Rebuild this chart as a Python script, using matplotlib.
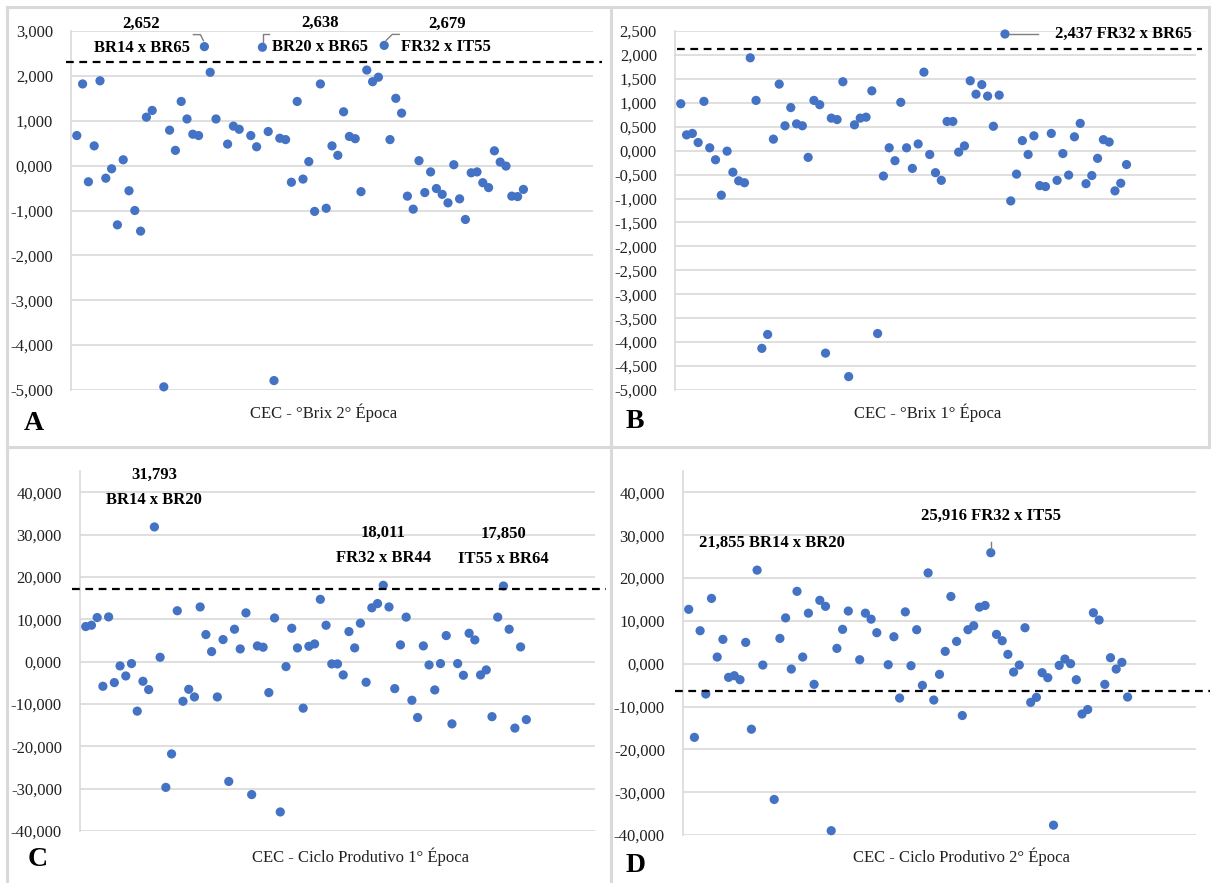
import numpy as np
import matplotlib
matplotlib.use("Agg")
import matplotlib.pyplot as plt
import matplotlib.transforms as mtransforms
from matplotlib.lines import Line2D
from matplotlib.ticker import FuncFormatter, MultipleLocator

plt.rcParams['font.family'] = ['Liberation Serif', 'DejaVu Serif']

# ---------------- data ----------------
N_POINTS = 78
x_pos = list(range(1, N_POINTS + 1))

brix_2a_epoca = [
    0.67, 1.82, -0.36, 0.44, 1.89, -0.28, -0.07, -1.32, 0.13, -0.56,
    -1.00, -1.46, 1.08, 1.23, None, -4.93, 0.79, 0.34, 1.43, 1.04,
    0.70, 0.67, 2.652, 2.08, 1.04, None, 0.48, 0.88, 0.81, None,
    0.67, 0.42, 2.638, 0.76, -4.79, 0.61, 0.58, -0.37, 1.43, -0.30,
    0.09, -1.02, 1.82, -0.95, 0.44, 0.23, 1.20, 0.65, 0.60, -0.58,
    2.13, 1.87, 1.97, 2.679, 0.58, 1.50, 1.17, -0.68, -0.97, 0.11,
    -0.60, -0.14, -0.51, -0.64, -0.83, 0.02, -0.74, -1.20, -0.16, -0.14,
    -0.38, -0.49, 0.33, 0.08, -0.01, -0.68, -0.69, -0.53]

brix_1a_epoca = [
    0.98, 0.33, 0.36, 0.17, 1.03, 0.06, -0.19, -0.93, -0.01, -0.45,
    -0.63, -0.67, 1.94, 1.05, -4.13, -3.84, 0.24, 1.39, 0.52, 0.90,
    0.56, 0.52, -0.14, 1.05, 0.96, -4.23, 0.68, 0.65, 1.44, -4.72,
    0.54, 0.68, 0.70, 1.25, -3.82, -0.53, 0.06, -0.21, 1.01, 0.06,
    -0.37, 0.14, 1.64, -0.08, -0.46, -0.62, 0.61, 0.61, -0.03, 0.10,
    1.46, 1.18, 1.38, 1.14, 0.51, 1.16, 2.437, -1.05, -0.49, 0.21,
    -0.08, 0.31, -0.73, -0.75, 0.36, -0.62, -0.06, -0.51, 0.29, 0.57,
    -0.69, -0.52, -0.16, 0.23, 0.18, -0.84, -0.68, -0.29]

ciclo_1a_epoca = [
    8.27, 8.58, 10.4, -5.83, 10.55, -4.96, -1.02, -3.39, -0.47, -11.7,
    -4.65, -6.61, 31.793, 1.02, -29.7, -21.8, 12.0, -9.37, -6.54, -8.35,
    12.9, 6.38, 2.36, -8.35, 5.20, -28.3, 7.64, 2.99, 11.5, -31.4,
    3.70, 3.39, -7.32, 10.3, -35.5, -1.18, 7.87, 3.23, -11.0, 3.62,
    4.17, 14.7, 8.58, -0.55, -0.55, -3.15, 7.09, 3.23, 9.06, -4.88,
    12.7, 13.7, 18.011, 12.9, -6.38, 3.94, 10.5, -9.13, -13.2, 3.70,
    -0.79, -6.69, -0.47, 6.14, -14.7, -0.47, -3.23, 6.69, 5.12, -3.15,
    -1.97, -13.0, 10.5, 17.850, 7.64, -15.7, 3.46, -13.7]

ciclo_2a_epoca = [
    12.7, -17.2, 7.70, -7.08, 15.25, 1.56, 5.68, -3.19, -2.80, -3.74,
    4.98, -15.3, 21.855, -0.31, None, -31.7, 5.91, 10.7, -1.25, 16.9,
    1.56, 11.8, -4.82, 14.8, 13.4, -39.0, 3.58, 8.02, 12.3, None,
    0.93, 11.8, 10.4, 7.24, None, -0.23, 6.30, -8.02, 12.1, -0.47,
    7.94, -5.06, 21.2, -8.48, -2.49, 2.88, 15.7, 5.21, -12.1, 7.94,
    8.87, 13.2, 13.6, 25.916, 6.85, 5.37, 2.18, -1.95, -0.31, 8.40,
    -9.03, -7.86, -2.10, -3.27, -37.7, -0.39, 1.09, 0.0, -3.74, -11.75,
    -10.7, 11.9, 10.2, -4.82, 1.40, -1.25, 0.31, -7.78]

limiar_A = 2.30
limiar_B = 2.12
limiar_C = 17.2
limiar_D = -6.4

xlabels = ["CEC - °Brix 2° Época", "CEC - °Brix 1° Época",
           "CEC - Ciclo Produtivo 1° Época", "CEC - Ciclo Produtivo 2° Época"]
letters = ["A", "B", "C", "D"]

# ---------------- layout ----------------
W, H = 1211, 883
fig = plt.figure(figsize=(W / 100, H / 100), dpi=100)
fig.patch.set_facecolor('white')

def rect(l, r, t, b):
    return [l / W, 1 - b / H, (r - l) / W, (b - t) / H]

def fpt(x, y):
    return x / W, 1 - y / H

DOT = '#4472C4'
GRID = '#d9d9d9'

def fmt(v, pos):
    return f"{v:.3f}".replace('.', ',')

def make_axes(r, ys, ylim, ystep, thr, dash_ext):
    ax = fig.add_axes(r)
    y = np.array([np.nan if v is None else v for v in ys], dtype=float)
    ax.scatter(x_pos, y, s=44, color=DOT, edgecolors='none', zorder=3, clip_on=False)
    ax.set_xlim(0, 90)
    ax.set_ylim(*ylim)
    ax.yaxis.set_major_locator(MultipleLocator(ystep))
    ax.set_yticks(np.arange(ylim[0], min(ylim[1], 40) + ystep / 2, ystep) if ylim[1] > 40 else np.arange(ylim[0], ylim[1] + ystep / 2, ystep))
    ax.yaxis.set_major_formatter(FuncFormatter(fmt))
    ax.set_xticks([])
    ax.grid(axis='y', color=GRID, lw=1.2, zorder=0)
    ax.set_axisbelow(True)
    for s in ['top', 'right', 'bottom']:
        ax.spines[s].set_visible(False)
    ax.spines['left'].set_color(GRID)
    ax.spines['left'].set_linewidth(1.2)
    ax.tick_params(axis='y', length=0, pad=13, labelsize=12, colors='#222222')
    tr = mtransforms.blended_transform_factory(ax.transAxes, ax.transData)
    ax.plot(dash_ext, [thr, thr], transform=tr, color='black', lw=1.6,
            ls=(0, (3.5, 2.5)), clip_on=False, zorder=4)
    return ax

axA = make_axes(rect(71, 593, 31, 390), brix_2a_epoca, (-5, 3), 1, limiar_A, [-0.01, 1.017])
axB = make_axes(rect(675, 1196, 31, 390), brix_1a_epoca, (-5, 2.5), 0.5, limiar_B, [0.004, 1.011])
axC = make_axes(rect(80, 595, 471, 831), ciclo_1a_epoca, (-40, 45), 10, limiar_C, [-0.016, 1.021])
axD = make_axes(rect(683, 1196, 471, 835), ciclo_2a_epoca, (-40, 45), 10, limiar_D, [-0.016, 1.027])

def fmt_lab(v):
    return f"{v:.3f}".replace('.', ',')

def label(ax, i, ys, text, dx, dy, ha='center'):
    ax.annotate(text, xy=(x_pos[i], ys[i]), xytext=(dx, dy), textcoords='offset pixels',
                ha=ha, va='center', fontsize=12, fontweight='bold',
                annotation_clip=False, zorder=5)

def leader(ax, i, ys, offs, color='#7f7f7f'):
    px0, py0 = ax.transData.transform((x_pos[i], ys[i]))
    xs = [px0 + o[0] for o in offs]
    yy = [py0 + o[1] for o in offs]
    fig.add_artist(Line2D(xs, yy, transform=mtransforms.IdentityTransform(),
                          color=color, lw=1.0))

# Panel A labels
for i, dxy_val, dxy_name, offs in [
        (22, (-63, 23), (-62, -1), [(-11, 12), (-4, 12), (-1, 6)]),
        (32, (58, 24), (58, 0), [(1, 5), (1, 13), (7, 13)]),
        (53, (63, 22), (62, -2), [(2, 5), (8, 11), (15, 11)])]:
    name = {22: "BR14 x BR65", 32: "BR20 x BR65", 53: "FR32 x IT55"}[i]
    label(axA, i, brix_2a_epoca, fmt_lab(brix_2a_epoca[i]), *dxy_val)
    label(axA, i, brix_2a_epoca, name, *dxy_name)
    leader(axA, i, brix_2a_epoca, offs)

# Panel B label
label(axB, 56, brix_1a_epoca, fmt_lab(brix_1a_epoca[56]) + " FR32 x BR65", 50, 0, ha='left')
leader(axB, 56, brix_1a_epoca, [(4, 0), (33, 0)])

# Panel C labels
for i, name in [(12, "BR14 x BR20"), (52, "FR32 x BR44"), (73, "IT55 x BR64")]:
    label(axC, i, ciclo_1a_epoca, fmt_lab(ciclo_1a_epoca[i]), 0, 52)
    label(axC, i, ciclo_1a_epoca, name, 0, 27)

# Panel D labels
label(axD, 12, ciclo_2a_epoca, fmt_lab(ciclo_2a_epoca[12]) + " BR14 x BR20", 15, 27)
label(axD, 53, ciclo_2a_epoca, fmt_lab(ciclo_2a_epoca[53]) + " FR32 x IT55", 0, 37)
leader(axD, 53, ciclo_2a_epoca, [(0, 4), (0, 11)])

# x labels and panel letters
for (x, y), t in zip([(324, 413), (928, 413), (360, 857), (961, 857)], xlabels):
    fig.text(*fpt(x, y), t, ha='center', va='center', fontsize=12, color='#222222')
for (x, y), t in zip([(34, 423), (635, 421), (38, 860), (636, 866)], letters):
    fig.text(*fpt(x, y), t, ha='center', va='center', fontsize=20, fontweight='bold')

# panel borders
for xs, ys_ in [([7, 1209], [7, 7]), ([7, 7], [7, 883]), ([611, 611], [7, 883]),
                ([7, 1209], [447, 447]), ([1209, 1209], [7, 447])]:
    fig.add_artist(Line2D([x / W for x in xs], [1 - y / H for y in ys_],
                          transform=fig.transFigure, color=GRID, lw=2.2))

fig.savefig("out.png", dpi=100, facecolor='white')
